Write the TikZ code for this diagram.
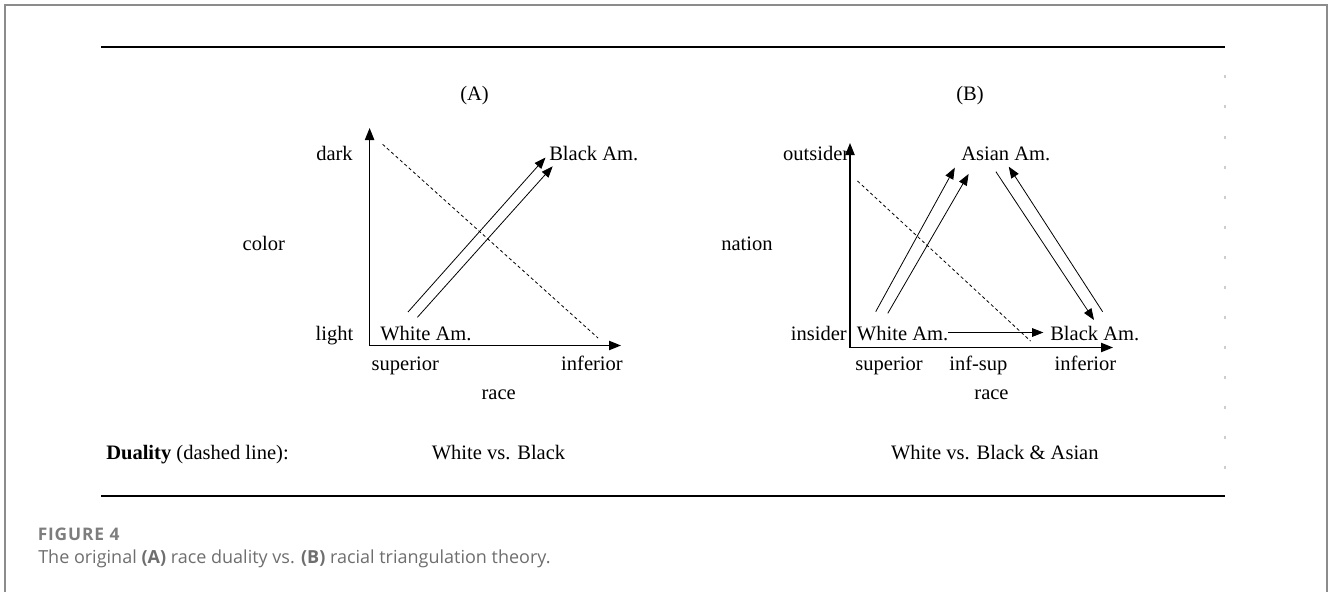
\documentclass[tikz,border=0pt]{standalone}
\usepackage{fontspec}
\setmainfont{Liberation Serif}
\newfontfamily\capfont{Open Sans}
\newfontfamily\figfont[LetterSpace=5]{Open Sans}
\usetikzlibrary{arrows.meta}

\definecolor{framegray}{RGB}{140,140,140}
\definecolor{capgray}{RGB}{110,110,110}
\definecolor{figgray}{RGB}{125,125,125}
\definecolor{tickgray}{RGB}{205,205,205}

\begin{document}
\begin{tikzpicture}[x=0.75pt,y=-0.75pt,
  lbl/.style={inner sep=0pt, anchor=base, font=\fontsize{15.4}{18}\selectfont},
  axis/.style={line width=0.9pt, -{Triangle[length=9pt,width=7pt]}},
  link/.style={line width=0.6pt, -{Triangle[length=8.5pt,width=6.5pt]}},
  duality/.style={line width=0.6pt, dash pattern=on 2.4pt off 2pt},
  rule/.style={line width=1.8pt},
  frame/.style={draw=framegray, line width=1.5pt},
]
\useasboundingbox (0,0) rectangle (1328,592);

% outer frame (open at the bottom)
\draw[frame] (4.5,592) -- (4.5,5.5) -- (1327,5.5) -- (1327,592);

% horizontal rules
\coordinate (ruleTL) at (101,47);
\coordinate (ruleTR) at (1225,47);
\coordinate (ruleBL) at (101,496);
\coordinate (ruleBR) at (1225,496);
\draw[rule] (ruleTL) -- (ruleTR);
\draw[rule] (ruleBL) -- (ruleBR);

% faint tick marks along the right edge
\foreach \k in {0,...,13}{
  \draw[tickgray, line width=0.8pt] (1225,{75.5+30*\k}) -- (1225,{78.5+30*\k});
}

% ---------------- panel A ----------------
\node[lbl] (tA) at (474.5,100) {(A)};
\coordinate (oA) at (369.6,345.5);
\coordinate (yA) at (369.6,128);
\coordinate (xA) at (621,345.5);
\draw[axis] (oA) -- (yA);
\draw[axis] (oA) -- (xA);

\node[lbl, anchor=base east] (darkA) at (353,160) {dark};
\node[lbl, anchor=base east] (lightA) at (353.5,340) {light};
\node[lbl] (colorA) at (263.8,250) {color};
\node[lbl, anchor=base west] (blackA) at (549,160) {Black Am.};
\node[lbl, anchor=base west] (whiteA) at (380,340) {White Am.};
\node[lbl, anchor=base west] (supA) at (371.4,370) {superior};
\node[lbl] (infA) at (592,370) {inferior};
\node[lbl] (raceA) at (498.7,399) {race};

\coordinate (a1s) at (408,312);
\coordinate (a1e) at (545.5,157.5);
\coordinate (a2s) at (417.4,317.3);
\coordinate (a2e) at (552.7,166.3);
\draw[link] (a1s) -- (a1e);
\draw[link] (a2s) -- (a2e);

\coordinate (dA1) at (382.6,144.3);
\coordinate (dA2) at (598,338);
\draw[duality] (dA1) -- (dA2);

% ---------------- panel B ----------------
\node[lbl] (tB) at (970,100) {(B)};
\coordinate (oB) at (850,347.5);
\coordinate (yB) at (850,143);
\coordinate (xB) at (1113,347.5);
\draw[axis] (oB) -- (yB);
\draw[axis] (oB) -- (xB);

\node[lbl, anchor=base east] (outB) at (849.5,160) {outsider};
\node[lbl, anchor=base east] (inB) at (847,340) {insider};
\node[lbl] (nationB) at (747,250) {nation};
\node[lbl, anchor=base west] (asianB) at (961,160) {Asian Am.};
\node[lbl, anchor=base west] (whiteB) at (856.7,340) {White Am.};
\node[lbl, anchor=base west] (blackB) at (1050,340) {Black Am.};
\node[lbl] (supB) at (889,370) {superior};
\node[lbl] (infsupB) at (978.4,370) {inf-sup};
\node[lbl] (infB) at (1085.5,370) {inferior};
\node[lbl] (raceB) at (991.5,399) {race};

\coordinate (b1s) at (875.7,311.7);
\coordinate (b1e) at (954.8,167.7);
\coordinate (b2s) at (887.8,313.3);
\coordinate (b2e) at (968.6,174);
\coordinate (b3s) at (995.9,171.7);
\coordinate (b3e) at (1094,320);
\coordinate (b4s) at (1102.6,311.7);
\coordinate (b4e) at (1008.8,166.7);
\coordinate (b5s) at (948.3,332.5);
\coordinate (b5e) at (1043.4,332.5);
\draw[link] (b1s) -- (b1e);
\draw[link] (b2s) -- (b2e);
\draw[link] (b3s) -- (b3e);
\draw[link] (b4s) -- (b4e);
\draw[link] (b5s) -- (b5e);

\coordinate (dB1) at (857.5,181);
\coordinate (dB2) at (1030.5,341);
\draw[duality] (dB1) -- (dB2);

% ---------------- duality row ----------------
\node[lbl, anchor=base west] (dual) at (106,459) {\textbf{Duality} (dashed line):};
\node[lbl] (vsA) at (498.5,459) {White vs. Black};
\node[lbl] (vsB) at (994.8,459) {White vs. Black \& Asian};

% ---------------- caption ----------------
\node[inner sep=0pt, anchor=base west, text=figgray,
      font=\figfont\bfseries\fontsize{13}{15}\selectfont] (fig) at (37.5,540) {FIGURE 4};
\node[inner sep=0pt, anchor=base west, text=capgray,
      font=\capfont\fontsize{13.5}{15}\selectfont] (cap) at (38,563.3)
  {The original \textbf{(A)} race duality vs. \textbf{(B)} racial triangulation theory.};
\end{tikzpicture}
\end{document}
